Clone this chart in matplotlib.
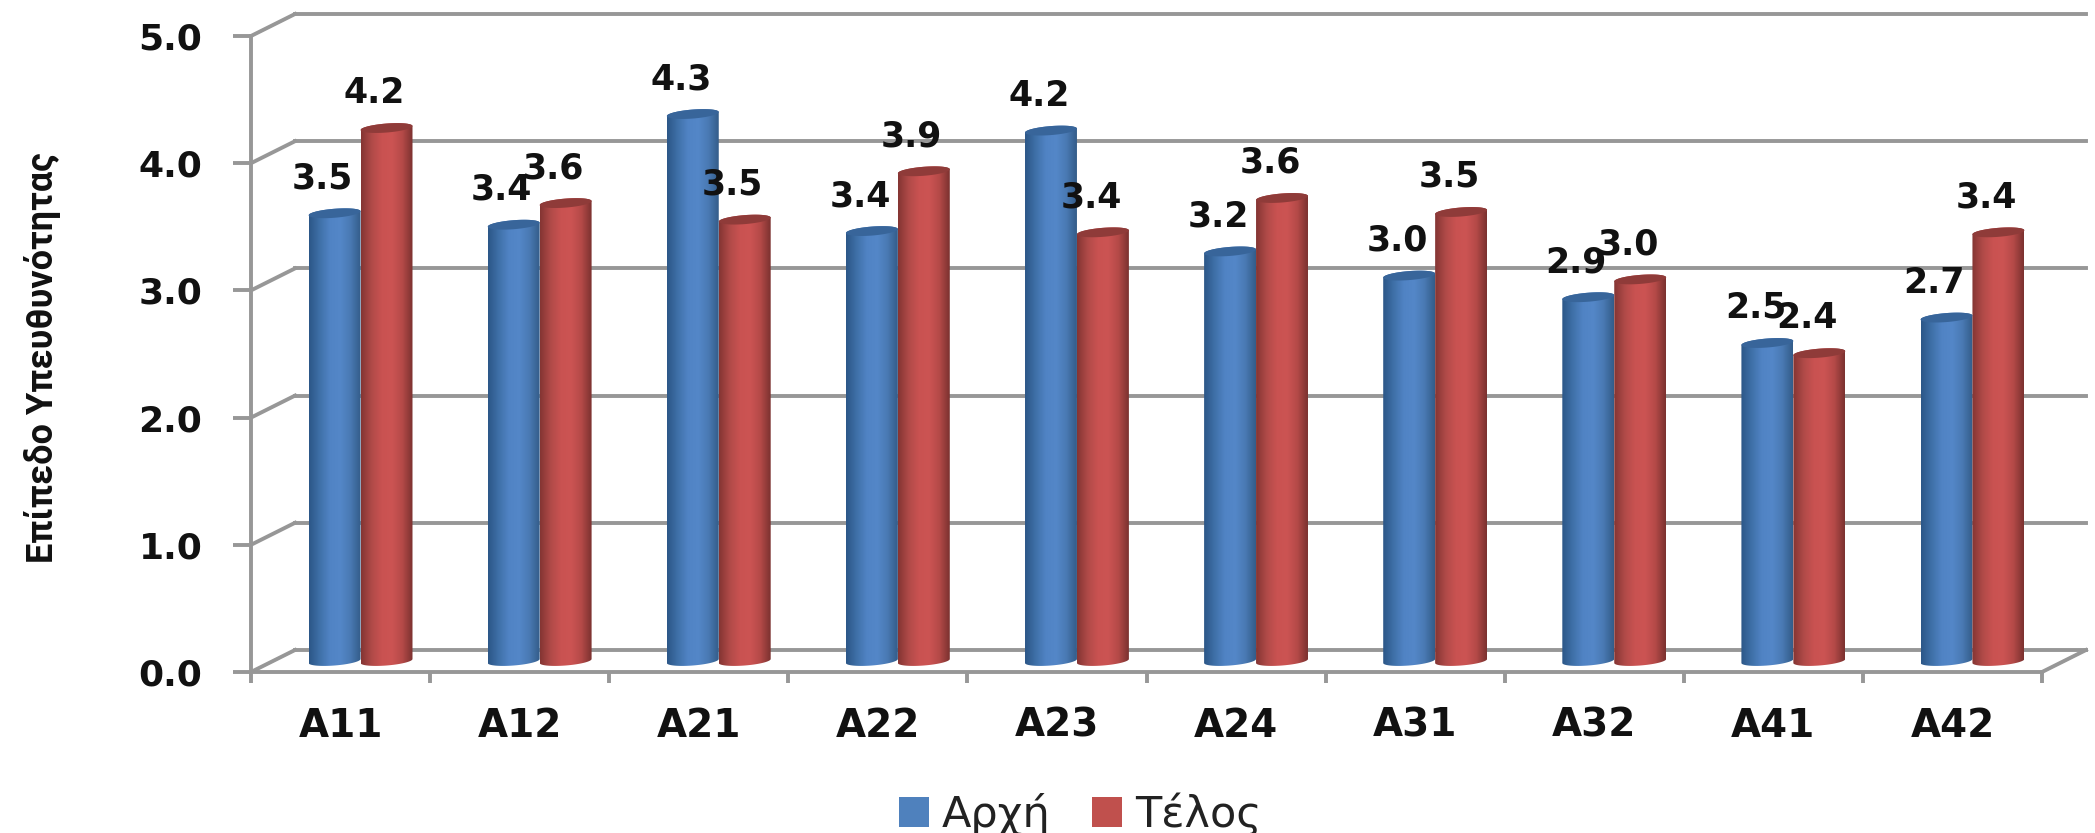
import numpy as np
import matplotlib
matplotlib.use("Agg")
import matplotlib.pyplot as plt
from matplotlib.colors import LinearSegmentedColormap
from matplotlib.patches import Patch, Polygon, PathPatch
from matplotlib.path import Path
from matplotlib.transforms import Affine2D

categories = ["A11", "A12", "A21", "A22", "A23", "A24", "A31", "A32", "A41", "A42"]
arxi = [3.52, 3.43, 4.30, 3.38, 4.17, 3.22, 3.03, 2.86, 2.50, 2.70]
telos = [4.19, 3.60, 3.47, 3.85, 3.37, 3.64, 3.53, 3.00, 2.42, 3.37]
yticks = [0, 1, 2, 3, 4, 5]

W, H = 2095, 833
GRAY = "#979797"
LW = 2.8
# depth of the fake 3d box, in data units
BX = 44 / 179.1
BY = 22 / 127.2
BAR_W = 0.29

fig = plt.figure(figsize=(W / 100, H / 100), dpi=100)
ax = fig.add_axes([251 / W, (H - 672) / H, 1791 / W, 636 / H])
ax.set_facecolor("none")

# bars stand half way back in the box
mid = ax.transData + Affine2D().translate(20, 11)

blue_cm = LinearSegmentedColormap.from_list("b", ["#2c5788", "#3f70a8", "#5083c4", "#5487c8", "#4a7ab4", "#345d8a"])
red_cm = LinearSegmentedColormap.from_list("r", ["#853533", "#b04a48", "#c95251", "#cc5453", "#b54a48", "#7c3230"])


def cylinder(x0, v, cmap, cap):
    xc = x0 + BAR_W / 2
    b = 4.5 / 127.2
    tilt = 2 / 127.2
    t = np.linspace(0, np.pi, 40)
    top_x = xc + BAR_W / 2 * np.cos(t)
    top_y = v + b * np.sin(t) + tilt * np.cos(t)
    bot_x = xc + BAR_W / 2 * np.cos(t + np.pi)
    bot_y = b * np.sin(t + np.pi) + tilt * np.cos(t + np.pi)
    outline = np.column_stack([np.r_[top_x, bot_x], np.r_[top_y, bot_y]])
    im = ax.imshow(np.linspace(0, 1, 64)[None, :], cmap=cmap, aspect="auto",
                   extent=(x0, x0 + BAR_W, -0.1, v + 0.1), transform=mid,
                   interpolation="bilinear", zorder=3, clip_on=True)
    clip = PathPatch(Path(np.r_[outline, outline[:1]], closed=True), transform=mid)
    im.set_clip_path(clip)
    t2 = np.linspace(0, 2 * np.pi, 60)
    ax.add_patch(Polygon(np.column_stack([xc + BAR_W / 2 * np.cos(t2),
                                          v + b * np.sin(t2) + tilt * np.cos(t2)]),
                         closed=True, fc=cap, ec="none", transform=mid, zorder=4, clip_on=False))


for i, (a, b) in enumerate(zip(arxi, telos)):
    cylinder(i + 0.5 - BAR_W, a, blue_cm, "#38659a")
    cylinder(i + 0.5, b, red_cm, "#8f3b39")
    for x, v in [(i + 0.5 - BAR_W / 2, a), (i + 0.5 + BAR_W / 2, b)]:
        ax.annotate(f"{v:.1f}", (x, v), xycoords=mid, xytext=(-12, 35), textcoords="offset pixels",
                    ha="center", va="center", fontsize=25, fontweight="bold", color="#111111",
                    zorder=6, annotation_clip=False)

ax.set_xlim(0, 10)
ax.set_ylim(0, 5)
ax.set_aspect("auto")

# back wall grid and the slanted bits
for v in yticks:
    ax.plot([BX, 10 + BX], [v + BY, v + BY], color=GRAY, lw=LW, clip_on=False, zorder=1)
    ax.plot([0, BX], [v, v + BY], color=GRAY, lw=LW, clip_on=False, zorder=1)
ax.plot([10, 10 + BX], [0, BY], color=GRAY, lw=LW, clip_on=False, zorder=1)

for s in ["top", "right"]:
    ax.spines[s].set_visible(False)
for s in ["left", "bottom"]:
    ax.spines[s].set_color(GRAY)
    ax.spines[s].set_linewidth(LW)
    ax.spines[s].set_zorder(2)

ax.set_yticks(yticks)
ax.set_yticklabels([f"{v:.1f}" for v in yticks], fontsize=26, fontweight="bold", color="#111111")
ax.set_xticks(range(11))
ax.set_xticklabels([])
ax.set_xticks(np.arange(10) + 0.5, categories, minor=True, fontsize=28, fontweight="bold", color="#111111")
ax.tick_params(axis="y", length=13, width=LW, color=GRAY, pad=22)
ax.tick_params(axis="x", which="major", length=8, width=LW, color=GRAY)
ax.tick_params(axis="x", which="minor", length=0, pad=25)

ax.set_ylabel("Επίπεδο Υπευθυνότητας", family="Roboto", fontsize=26, fontweight="bold", color="#111111")
ax.yaxis.set_label_coords(-0.106, 0.495)

handles = [Patch(fc="#4f81bd", label="Αρχή"), Patch(fc="#c0504d", label="Τέλος")]
fig.legend(handles=handles, ncol=2, frameon=False, fontsize=31, handlelength=0.7, handleheight=0.7,
           handletextpad=0.3, columnspacing=0.95, loc="center", bbox_to_anchor=(1080 / W, (H - 814) / H),
           labelcolor="#222222")

fig.savefig("out.png", dpi=100)
